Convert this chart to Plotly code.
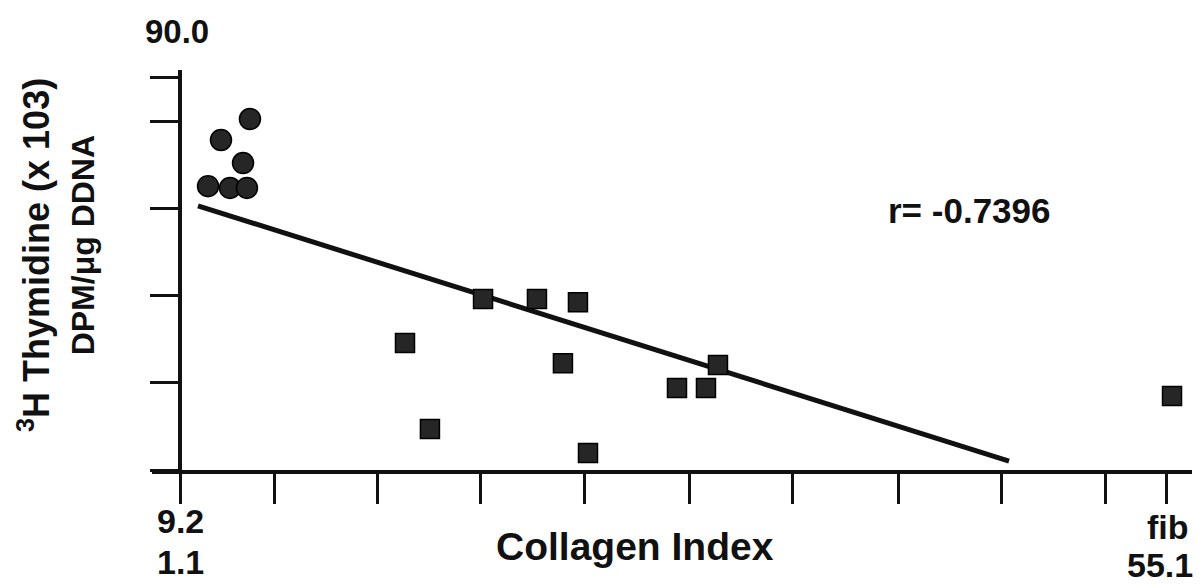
import plotly.graph_objects as go

# ---- data (arbitrary collagen-index axis units) ----
circle_x = [0.676, 0.396, 0.609, 0.271, 0.483, 0.647]
circle_y = [80.5, 75.7, 70.4, 65.1, 64.7, 64.7]

square_x = [2.928, 3.449, 3.845, 2.174, 3.700, 5.198, 4.802, 5.082, 2.415, 3.942, 9.585]
square_y = [39.2, 39.2, 38.5, 29.1, 24.5, 24.1, 18.8, 18.8, 9.4, 3.9, 17.0]

fit_x = [0.174, 8.01]
fit_y = [60.6, 2.06]

x_tickvals = [0, 0.91, 1.91, 2.9, 3.91, 4.92, 5.92, 6.94, 7.94, 8.94, 9.53]
# end-of-axis labels: (x position in axis units, text, paper y)
x_end_label_x = [0, 0, 9.546, 9.469]
x_end_label_text = ["9.2", "1.1", "fib", "55.1"]
x_end_label_y = [-0.1275, -0.23, -0.1425, -0.237]
y_tickvals = [0, 20, 40, 60, 80, 90]

r_label = "r= -0.7396"
y_top_label = "90.0"
x_title = "Collagen Index"
y_title_1 = "<sup>3</sup>H Thymidine (x 103)"
y_title_2 = "DPM/μg DDNA"

FONT = "Liberation Sans"
INK = "#111111"

fig = go.Figure()

fig.add_trace(go.Scatter(
    x=fit_x, y=fit_y, mode="lines",
    line=dict(color=INK, width=5), hoverinfo="skip", showlegend=False))

fig.add_trace(go.Scatter(
    x=circle_x, y=circle_y, mode="markers",
    marker=dict(symbol="circle", size=21, color="#262626",
                line=dict(color="#000000", width=1.5)),
    showlegend=False, cliponaxis=False))

fig.add_trace(go.Scatter(
    x=square_x, y=square_y, mode="markers",
    marker=dict(symbol="square", size=19, color="#262626",
                line=dict(color="#000000", width=1.5)),
    showlegend=False, cliponaxis=False))

fig.update_layout(
    width=1204, height=586,
    margin=dict(l=152, r=12, t=70, b=116, autoexpand=False),
    paper_bgcolor="white", plot_bgcolor="white",
    font=dict(family=FONT, color=INK),
    xaxis=dict(
        range=[-0.2705, 9.778], showgrid=False, zeroline=False,
        automargin=False,
        showline=True, linecolor=INK, linewidth=4,
        ticks="outside", ticklen=30, tickwidth=3, tickcolor=INK,
        tickmode="array", tickvals=x_tickvals, showticklabels=False,
    ),
    yaxis=dict(
        range=[0, 91.74], showgrid=False, zeroline=False,
        automargin=False,
        anchor="free", position=28 / 1040,
        showline=True, linecolor=INK, linewidth=4,
        ticks="outside", ticklen=28, tickwidth=3, tickcolor=INK,
        tickmode="array", tickvals=y_tickvals, showticklabels=False,
    ),
)

ann_font = lambda s: dict(family=FONT, size=s, color=INK, weight="bold")

for xv, txt, yv in zip(x_end_label_x, x_end_label_text, x_end_label_y):
    fig.add_annotation(x=xv, y=yv, xref="x", yref="paper", text=txt,
                       showarrow=False, xanchor="center", yanchor="middle",
                       borderpad=0, font=ann_font(34))

fig.add_annotation(x=6.82, y=59.6, xref="x", yref="y", text=r_label,
                   showarrow=False, xanchor="left", yanchor="middle",
                   font=ann_font(35))
fig.add_annotation(x=0.024, y=1.0975, xref="paper", yref="paper", text=y_top_label,
                   showarrow=False, xanchor="center", yanchor="middle",
                   font=ann_font(33))
fig.add_annotation(x=0.4644, y=-0.19, xref="paper", yref="paper", text=x_title,
                   showarrow=False, xanchor="center", yanchor="middle",
                   font=ann_font(39))
fig.add_annotation(x=-0.1135, y=0.5375, xref="paper", yref="paper", text=y_title_1,
                   showarrow=False, xanchor="center", yanchor="middle",
                   textangle=-90, font=ann_font(36))
fig.add_annotation(x=-0.066, y=0.5625, xref="paper", yref="paper", text=y_title_2,
                   showarrow=False, xanchor="center", yanchor="middle",
                   textangle=-90, font=ann_font(32))

fig.write_html("out.html", config={"displayModeBar": False},
               post_script="document.body.style.margin='0';document.body.style.padding='0';")
